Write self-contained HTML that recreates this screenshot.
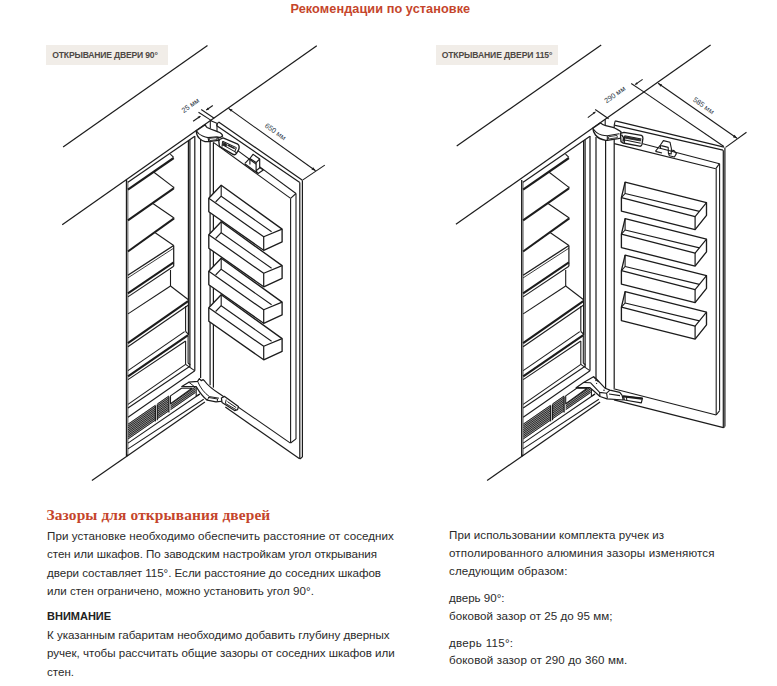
<!DOCTYPE html>
<html><head><meta charset="utf-8"><title>Рекомендации по установке</title>
<style>
html,body{margin:0;padding:0;background:#fff;}
body{width:777px;height:686px;position:relative;overflow:hidden;font-family:"Liberation Sans",sans-serif;color:#222;}
.t{position:absolute;white-space:nowrap;line-height:1;}
.title{left:290.5px;top:2.5px;font-size:12.7px;font-weight:bold;color:#c5452b;letter-spacing:0.08px;}
.lab{position:absolute;top:45px;height:19.6px;background:#f1ede8;}
.lab span{position:absolute;left:6.6px;top:5.9px;font-size:8.6px;font-weight:bold;color:#4d4845;line-height:1;white-space:nowrap;letter-spacing:-0.19px;}
.h{left:46.5px;top:507px;font-family:"Liberation Serif",serif;font-size:15.4px;font-weight:bold;color:#c5452b;letter-spacing:0.13px;}
.p{font-size:11.6px;color:#2a2a2a;}
.b{font-size:11px;font-weight:bold;color:#222;}
</style></head><body>
<div class="t title">Рекомендации по установке</div>
<div class="lab" style="left:46.3px;width:121.6px"><span style="left:6px">ОТКРЫВАНИЕ ДВЕРИ 90°</span></div>
<div class="lab" style="left:436.3px;width:121.6px"><span style="left:5.4px;letter-spacing:-0.135px">ОТКРЫВАНИЕ ДВЕРИ 115°</span></div>
<svg width="777" height="686" viewBox="0 0 777 686" style="position:absolute;left:0;top:0" fill="none" stroke="#1c1c1c" stroke-width="1.22" stroke-linecap="butt" stroke-linejoin="round">
<g id="left">
<line x1="63.1" y1="147.0" x2="207.5" y2="45.5" stroke-width="1.22"/>
<line x1="62.2" y1="224.8" x2="316.8" y2="45.8" stroke-width="1.22"/>
<line x1="126.5" y1="179.9" x2="126.5" y2="456.2" stroke-width="1.34"/>
<line x1="127.9" y1="181.3" x2="127.9" y2="454.8" stroke-width="0.67"/>
<line x1="127.9" y1="182.2" x2="194.8" y2="136.3"/>
<line x1="188.4" y1="140.8" x2="188.4" y2="335.0"/>
<line x1="189.9" y1="139.8" x2="189.9" y2="366.5"/>
<line x1="194.8" y1="136.0" x2="194.8" y2="370.8"/>
<line x1="170.3" y1="154.2" x2="173.7" y2="157.4" stroke-width="1.10"/>
<line x1="127.9" y1="189.7" x2="173.7" y2="158.0" stroke-width="2.20"/>
<line x1="127.9" y1="220.4" x2="173.7" y2="188.4" stroke-width="2.07"/>
<line x1="173.7" y1="186.8" x2="173.7" y2="188.8"/>
<line x1="173.7" y1="187.4" x2="153.3" y2="171.8" stroke-width="1.10"/>
<line x1="127.9" y1="251.5" x2="173.7" y2="218.6" stroke-width="2.07"/>
<line x1="173.8" y1="217.4" x2="173.8" y2="219.4"/>
<line x1="173.7" y1="217.8" x2="152.9" y2="203.5" stroke-width="1.10"/>
<line x1="173.7" y1="245.5" x2="155.2" y2="232.8" stroke-width="1.10"/>
<line x1="127.9" y1="275.2" x2="173.7" y2="245.5" stroke-width="1.34"/>
<line x1="127.9" y1="277.9" x2="173.7" y2="248.2" stroke-width="0.85"/>
<line x1="173.7" y1="245.5" x2="173.7" y2="266.2"/>
<line x1="127.9" y1="293.3" x2="173.7" y2="262.4" stroke-width="2.07"/>
<line x1="127.9" y1="296.9" x2="173.7" y2="266.2" stroke-width="1.10"/>
<line x1="170.5" y1="270.0" x2="170.5" y2="286.0" stroke-width="1.10"/>
<line x1="128.0" y1="313.9" x2="170.5" y2="286.0" stroke-width="1.10"/>
<line x1="170.5" y1="286.0" x2="188.1" y2="299.5" stroke-width="1.10"/>
<line x1="127.9" y1="343.1" x2="188.1" y2="301.2" stroke-width="2.20"/>
<line x1="127.9" y1="346.8" x2="188.1" y2="305.2" stroke-width="1.10"/>
<line x1="185.6" y1="306.0" x2="185.6" y2="331.5" stroke-width="1.10"/>
<line x1="185.6" y1="331.5" x2="188.1" y2="333.8" stroke-width="1.10"/>
<line x1="128.0" y1="370.6" x2="184.6" y2="331.6" stroke-width="1.10"/>
<line x1="128.0" y1="376.3" x2="188.1" y2="335.2" stroke-width="2.20"/>
<line x1="128.0" y1="379.6" x2="185.6" y2="341.0" stroke-width="1.10"/>
<line x1="185.6" y1="341.0" x2="185.6" y2="364.4" stroke-width="1.10"/>
<line x1="188.1" y1="335.2" x2="188.1" y2="363.2" stroke-width="1.10"/>
<line x1="185.6" y1="364.4" x2="194.6" y2="370.6" stroke-width="1.10"/>
<line x1="188.1" y1="363.2" x2="190.3" y2="364.8" stroke-width="1.10"/>
<line x1="128.0" y1="404.4" x2="185.6" y2="364.4" stroke-width="1.10"/>
<line x1="128.0" y1="408.0" x2="190.3" y2="366.0" stroke-width="1.10"/>
<line x1="128.0" y1="417.3" x2="194.8" y2="370.8" stroke-width="1.10"/>
<path d="M128.0 423.7 L155.4 404.8 L155.4 420.6 L128.0 439.5 Z" fill="#9a9a9a" stroke="none"/>
<line x1="128.0" y1="424.2" x2="155.4" y2="405.3" stroke-width="0.85" stroke="#111"/>
<line x1="128.0" y1="426.1" x2="155.4" y2="407.1" stroke-width="0.85" stroke="#111"/>
<line x1="128.0" y1="427.9" x2="155.4" y2="409.0" stroke-width="0.85" stroke="#111"/>
<line x1="128.0" y1="429.8" x2="155.4" y2="410.8" stroke-width="0.85" stroke="#111"/>
<line x1="128.0" y1="431.6" x2="155.4" y2="412.7" stroke-width="0.85" stroke="#111"/>
<line x1="128.0" y1="433.4" x2="155.4" y2="414.5" stroke-width="0.85" stroke="#111"/>
<line x1="128.0" y1="435.3" x2="155.4" y2="416.4" stroke-width="0.85" stroke="#111"/>
<line x1="128.0" y1="437.1" x2="155.4" y2="418.2" stroke-width="0.85" stroke="#111"/>
<line x1="128.0" y1="439.0" x2="155.4" y2="420.1" stroke-width="0.85" stroke="#111"/>
<path d="M157.3 403.5 L168.9 395.5 L168.9 411.3 L157.3 419.3 Z" fill="#9a9a9a" stroke="none"/>
<line x1="157.3" y1="404.0" x2="168.9" y2="396.0" stroke-width="0.85" stroke="#111"/>
<line x1="157.3" y1="405.8" x2="168.9" y2="397.8" stroke-width="0.85" stroke="#111"/>
<line x1="157.3" y1="407.7" x2="168.9" y2="399.7" stroke-width="0.85" stroke="#111"/>
<line x1="157.3" y1="409.5" x2="168.9" y2="401.5" stroke-width="0.85" stroke="#111"/>
<line x1="157.3" y1="411.4" x2="168.9" y2="403.4" stroke-width="0.85" stroke="#111"/>
<line x1="157.3" y1="413.2" x2="168.9" y2="405.2" stroke-width="0.85" stroke="#111"/>
<line x1="157.3" y1="415.1" x2="168.9" y2="407.1" stroke-width="0.85" stroke="#111"/>
<line x1="157.3" y1="416.9" x2="168.9" y2="408.9" stroke-width="0.85" stroke="#111"/>
<line x1="157.3" y1="418.8" x2="168.9" y2="410.8" stroke-width="0.85" stroke="#111"/>
<line x1="155.4" y1="405.6" x2="155.4" y2="421.4"/>
<line x1="157.3" y1="404.4" x2="157.3" y2="420.2"/>
<path d="M170.5 403.6 L195.5 386.4 L195.5 392.9 L170.5 410.2 Z" fill="#9a9a9a" stroke="none"/>
<line x1="170.5" y1="404.1" x2="195.5" y2="386.9" stroke-width="0.85" stroke="#111"/>
<line x1="170.5" y1="406.0" x2="195.5" y2="388.7" stroke-width="0.85" stroke="#111"/>
<line x1="170.5" y1="407.8" x2="195.5" y2="390.6" stroke-width="0.85" stroke="#111"/>
<line x1="170.5" y1="409.7" x2="195.5" y2="392.4" stroke-width="0.85" stroke="#111"/>
<path d="M170.5 395.9 L181.5 388.3 L192.0 388.3 L170.5 403.6 Z" stroke-width="1.10" fill="#fff"/>
<line x1="168.9" y1="396.6" x2="168.9" y2="412.5"/>
<line x1="128.0" y1="443.1" x2="199.8" y2="394.0" stroke-width="1.10"/>
<line x1="128.0" y1="448.9" x2="203.7" y2="399.3" stroke-width="1.10"/>
<line x1="91.9" y1="480.5" x2="204.9" y2="401.9"/>
<line x1="126.4" y1="456.2" x2="128.0" y2="454.8"/>
<line x1="196.2" y1="387.5" x2="196.2" y2="396.2" stroke-width="1.10"/>
<line x1="196.2" y1="396.2" x2="199.8" y2="394.0" stroke-width="1.10"/>
<line x1="200.6" y1="137.0" x2="200.6" y2="378.0"/>
<line x1="210.1" y1="141.5" x2="210.1" y2="385.2"/>
<line x1="213.4" y1="142.4" x2="213.4" y2="387.6"/>
<line x1="218.6" y1="122.0" x2="302.4" y2="180.2"/>
<line x1="216.4" y1="125.4" x2="299.8" y2="182.6"/>
<line x1="218.6" y1="122.0" x2="216.4" y2="125.4" stroke-width="1.10"/>
<line x1="210.3" y1="120.6" x2="210.3" y2="128.6" stroke-width="1.10"/>
<line x1="217.0" y1="123.4" x2="217.0" y2="131.4" stroke-width="1.10"/>
<line x1="210.3" y1="120.6" x2="217.4" y2="123.6" stroke-width="1.10"/>
<line x1="236.4" y1="149.6" x2="296.0" y2="193.5" stroke-width="1.10"/>
<line x1="213.4" y1="142.4" x2="290.6" y2="198.4" stroke-width="1.10"/>
<line x1="296.0" y1="193.5" x2="290.6" y2="198.4" stroke-width="1.10"/>
<line x1="290.6" y1="198.4" x2="290.6" y2="443.0" stroke-width="1.10"/>
<line x1="296.0" y1="193.5" x2="296.0" y2="438.9" stroke-width="1.10"/>
<line x1="299.8" y1="182.6" x2="299.8" y2="459.0"/>
<line x1="302.4" y1="180.2" x2="302.4" y2="457.0"/>
<line x1="299.8" y1="459.0" x2="302.4" y2="457.0" stroke-width="1.10"/>
<line x1="224.0" y1="397.2" x2="290.4" y2="443.1" stroke-width="1.10"/>
<line x1="290.6" y1="443.0" x2="296.0" y2="438.9" stroke-width="1.10"/>
<line x1="225.3" y1="407.0" x2="299.6" y2="458.8"/>
<path d="M208.8 198.2 L221.2 185.3 L282.1 229.1 L282.1 241.9 L263.7 250.3 L208.8 211.7 Z" stroke-width="1.34" fill="#fff"/>
<path d="M208.8 198.2 L263.7 236.8 L282.1 229.1" stroke-width="1.22"/>
<path d="M263.7 236.8 L263.7 250.3" stroke-width="1.22"/>
<path d="M221.2 185.3 L221.2 196.2 L271.6 231.8" stroke-width="1.10"/>
<path d="M221.2 196.2 L215.6 202.0" stroke-width="1.10"/>
<path d="M208.8 234.7 L221.2 221.8 L282.1 265.6 L282.1 278.4 L263.7 286.8 L208.8 248.2 Z" stroke-width="1.34" fill="#fff"/>
<path d="M208.8 234.7 L263.7 273.3 L282.1 265.6" stroke-width="1.22"/>
<path d="M263.7 273.3 L263.7 286.8" stroke-width="1.22"/>
<path d="M221.2 221.8 L221.2 232.7 L271.6 268.3" stroke-width="1.10"/>
<path d="M221.2 232.7 L215.6 238.5" stroke-width="1.10"/>
<path d="M208.8 271.2 L221.2 258.3 L282.1 302.1 L282.1 314.9 L263.7 323.3 L208.8 284.7 Z" stroke-width="1.34" fill="#fff"/>
<path d="M208.8 271.2 L263.7 309.8 L282.1 302.1" stroke-width="1.22"/>
<path d="M263.7 309.8 L263.7 323.3" stroke-width="1.22"/>
<path d="M221.2 258.3 L221.2 269.2 L271.6 304.8" stroke-width="1.10"/>
<path d="M221.2 269.2 L215.6 275.0" stroke-width="1.10"/>
<path d="M208.8 307.7 L221.2 294.8 L282.1 338.6 L282.1 351.4 L263.7 359.8 L208.8 321.2 Z" stroke-width="1.34" fill="#fff"/>
<path d="M208.8 307.7 L263.7 346.3 L282.1 338.6" stroke-width="1.22"/>
<path d="M263.7 346.3 L263.7 359.8" stroke-width="1.22"/>
<path d="M221.2 294.8 L221.2 305.7 L271.6 341.3" stroke-width="1.10"/>
<path d="M221.2 305.7 L215.6 311.5" stroke-width="1.10"/>
<path d="M196.3 130.7 C196.3 133.5 197.6 136.6 199.4 138.4 C201 140 203 141.2 205 141.6 L208.9 141.7 L218.4 140.3 L217.9 137.9 L220.2 137.5 L222.5 136.1 C222.6 134.6 221 133.2 219.7 132.5 C216 131 211 129.6 207.1 127.5 C206.2 126.8 205.6 126.2 205.3 124.6 Z" fill="#fff" stroke-width="1.34"/>
<path d="M196.3 130.7 C198 133.4 200 135 202.6 136.1 C204.4 136.9 206 137.4 208 137.6 L217 136.7 L217.9 137.9 M208 137.6 L208.9 141.7 M217 136.7 L220.2 137.5" stroke-width="1.10"/>
<path d="M209.2 138.4 L216.6 137.6 L217 139.6 L209.6 140.6 Z" stroke-width="0.85"/>
<path d="M218.8 141.2 L219.7 139.5 L223 137.9 L237.8 144.2 C239.2 145.2 239.4 147.4 238.7 149.6 L236.6 153.2 C235.6 154.8 234 155 232.6 154.2 L219.4 146.4 Z" fill="#fff" stroke-width="1.34"/>
<path d="M222.6 141.2 L236.4 147.6 M222 144.4 L234.8 151.6 L236.6 153.2 M236.4 147.6 L234.8 151.6 M222.6 141.2 L222 146.6" stroke-width="1.04"/>
<path d="M223.4 142.6 L226.6 144 L226.2 146.6 L223.2 145 Z" fill="#222" stroke-width="0.73"/>
<path d="M227.6 145 L234.8 148.6" stroke-width="1.59"/>
<path d="M249.9 158.5 L253 154.3 L259.7 159 L259.7 167.8 L256.1 170.9 L256.1 162.6 Z" fill="#fff" stroke-width="1.16"/>
<path d="M244.7 163.7 L249.7 158.3 M256.1 162.6 L259.7 159 M249.9 158.5 L249.9 164.6 M244.7 163.7 L258.1 173.5 L263.3 169.9 L259.7 167.4 M256.1 170.9 L258.1 173.5" stroke-width="1.16"/>
<path d="M181.8 386.6 L188.8 382.2 L197.6 381.4 L199.4 378.6 L201.2 380.6 L203.2 379.6 L204.6 381 C208 386 213.6 390 220.6 394.6 L226 398.2 L224.4 401 L216 401.8 L207.2 400.2 C202.4 396.6 199.4 392 196.2 386.6 Z" fill="#fff" stroke-width="1.22"/>
<path d="M188.8 382.2 L194.4 386.6 M197.6 381.4 C200.4 388 204.4 393 209.4 396.6 L207.2 400.2 M209.4 396.6 L219 398.2 M208 397.4 L217.6 399 L217.2 401.6" stroke-width="0.98"/>
<path d="M221.4 398 L224.6 396.4 L238.4 406.6 L237.6 409.6 L234.6 410.6 L222 402.4 Z" fill="#fff" stroke-width="1.22"/>
<path d="M226.2 399.6 L225.4 403.4 L236 409.6 M227.4 401.6 L236.2 407.6" stroke-width="0.98"/>
<line x1="198.5" y1="112.2" x2="211.5" y2="120.6" stroke-width="1.10"/>
<line x1="201.2" y1="109.5" x2="214.2" y2="118.2" stroke-width="1.10"/>
<line x1="193.1" y1="121.2" x2="200.3" y2="116.2" stroke-width="1.10"/>
<line x1="206.4" y1="110.0" x2="212.8" y2="105.5" stroke-width="1.10"/>
<line x1="228.5" y1="108.4" x2="315.6" y2="170.7" stroke-width="1.10"/>
<line x1="302.9" y1="179.9" x2="324.8" y2="165.1" stroke-width="1.10"/>
<path d="M228.5 108.4 L232.6 109.4 L231 111.8 Z M315.6 170.7 L311.4 169.6 L313.2 167.2 Z" fill="#1c1c1c" stroke="none"/>
<path d="M200.9 115.9 L198.9 118.6 L197.6 116.8 Z M205.9 110.3 L209.2 109.4 L207.9 107.6 Z" fill="#1c1c1c" stroke="none"/>
</g>
<g id="right">
<line x1="456.7" y1="146.1" x2="601.2" y2="45.1" stroke-width="1.22"/>
<line x1="455.9" y1="224.3" x2="710.6" y2="45.1" stroke-width="1.22"/>
<line x1="521.7" y1="179.9" x2="521.7" y2="456.2" stroke-width="1.34"/>
<line x1="523.1" y1="181.3" x2="523.1" y2="454.8" stroke-width="0.67"/>
<line x1="523.1" y1="182.2" x2="590.0" y2="136.3"/>
<line x1="583.6" y1="140.8" x2="583.6" y2="335.0"/>
<line x1="585.1" y1="139.8" x2="585.1" y2="366.5"/>
<line x1="590.0" y1="136.0" x2="590.0" y2="370.8"/>
<line x1="565.5" y1="154.2" x2="568.9" y2="157.4" stroke-width="1.10"/>
<line x1="523.1" y1="189.7" x2="568.9" y2="158.0" stroke-width="2.20"/>
<line x1="523.1" y1="220.4" x2="568.9" y2="188.4" stroke-width="2.07"/>
<line x1="568.9" y1="186.8" x2="568.9" y2="188.8"/>
<line x1="568.9" y1="187.4" x2="548.5" y2="171.8" stroke-width="1.10"/>
<line x1="523.1" y1="251.5" x2="568.9" y2="218.6" stroke-width="2.07"/>
<line x1="569.0" y1="217.4" x2="569.0" y2="219.4"/>
<line x1="568.9" y1="217.8" x2="548.1" y2="203.5" stroke-width="1.10"/>
<line x1="568.9" y1="245.5" x2="550.4" y2="232.8" stroke-width="1.10"/>
<line x1="523.1" y1="275.2" x2="568.9" y2="245.5" stroke-width="1.34"/>
<line x1="523.1" y1="277.9" x2="568.9" y2="248.2" stroke-width="0.85"/>
<line x1="568.9" y1="245.5" x2="568.9" y2="266.2"/>
<line x1="523.1" y1="293.3" x2="568.9" y2="262.4" stroke-width="2.07"/>
<line x1="523.1" y1="296.9" x2="568.9" y2="266.2" stroke-width="1.10"/>
<line x1="565.7" y1="270.0" x2="565.7" y2="286.0" stroke-width="1.10"/>
<line x1="523.2" y1="313.9" x2="565.7" y2="286.0" stroke-width="1.10"/>
<line x1="565.7" y1="286.0" x2="583.3" y2="299.5" stroke-width="1.10"/>
<line x1="523.1" y1="343.1" x2="583.3" y2="301.2" stroke-width="2.20"/>
<line x1="523.1" y1="346.8" x2="583.3" y2="305.2" stroke-width="1.10"/>
<line x1="580.8" y1="306.0" x2="580.8" y2="331.5" stroke-width="1.10"/>
<line x1="580.8" y1="331.5" x2="583.3" y2="333.8" stroke-width="1.10"/>
<line x1="523.2" y1="370.6" x2="579.8" y2="331.6" stroke-width="1.10"/>
<line x1="523.2" y1="376.3" x2="583.3" y2="335.2" stroke-width="2.20"/>
<line x1="523.2" y1="379.6" x2="580.8" y2="341.0" stroke-width="1.10"/>
<line x1="580.8" y1="341.0" x2="580.8" y2="364.4" stroke-width="1.10"/>
<line x1="583.3" y1="335.2" x2="583.3" y2="363.2" stroke-width="1.10"/>
<line x1="580.8" y1="364.4" x2="589.8" y2="370.6" stroke-width="1.10"/>
<line x1="583.3" y1="363.2" x2="585.5" y2="364.8" stroke-width="1.10"/>
<line x1="523.2" y1="404.4" x2="580.8" y2="364.4" stroke-width="1.10"/>
<line x1="523.2" y1="408.0" x2="585.5" y2="366.0" stroke-width="1.10"/>
<line x1="523.2" y1="417.3" x2="590.0" y2="370.8" stroke-width="1.10"/>
<path d="M523.2 423.7 L550.6 404.8 L550.6 420.6 L523.2 439.5 Z" fill="#9a9a9a" stroke="none"/>
<line x1="523.2" y1="424.2" x2="550.6" y2="405.3" stroke-width="0.85" stroke="#111"/>
<line x1="523.2" y1="426.1" x2="550.6" y2="407.1" stroke-width="0.85" stroke="#111"/>
<line x1="523.2" y1="427.9" x2="550.6" y2="409.0" stroke-width="0.85" stroke="#111"/>
<line x1="523.2" y1="429.8" x2="550.6" y2="410.8" stroke-width="0.85" stroke="#111"/>
<line x1="523.2" y1="431.6" x2="550.6" y2="412.7" stroke-width="0.85" stroke="#111"/>
<line x1="523.2" y1="433.4" x2="550.6" y2="414.5" stroke-width="0.85" stroke="#111"/>
<line x1="523.2" y1="435.3" x2="550.6" y2="416.4" stroke-width="0.85" stroke="#111"/>
<line x1="523.2" y1="437.1" x2="550.6" y2="418.2" stroke-width="0.85" stroke="#111"/>
<line x1="523.2" y1="439.0" x2="550.6" y2="420.1" stroke-width="0.85" stroke="#111"/>
<path d="M552.5 403.5 L564.1 395.5 L564.1 411.3 L552.5 419.3 Z" fill="#9a9a9a" stroke="none"/>
<line x1="552.5" y1="404.0" x2="564.1" y2="396.0" stroke-width="0.85" stroke="#111"/>
<line x1="552.5" y1="405.8" x2="564.1" y2="397.8" stroke-width="0.85" stroke="#111"/>
<line x1="552.5" y1="407.7" x2="564.1" y2="399.7" stroke-width="0.85" stroke="#111"/>
<line x1="552.5" y1="409.5" x2="564.1" y2="401.5" stroke-width="0.85" stroke="#111"/>
<line x1="552.5" y1="411.4" x2="564.1" y2="403.4" stroke-width="0.85" stroke="#111"/>
<line x1="552.5" y1="413.2" x2="564.1" y2="405.2" stroke-width="0.85" stroke="#111"/>
<line x1="552.5" y1="415.1" x2="564.1" y2="407.1" stroke-width="0.85" stroke="#111"/>
<line x1="552.5" y1="416.9" x2="564.1" y2="408.9" stroke-width="0.85" stroke="#111"/>
<line x1="552.5" y1="418.8" x2="564.1" y2="410.8" stroke-width="0.85" stroke="#111"/>
<line x1="550.6" y1="405.6" x2="550.6" y2="421.4"/>
<line x1="552.5" y1="404.4" x2="552.5" y2="420.2"/>
<path d="M565.7 403.6 L590.7 386.4 L590.7 392.9 L565.7 410.2 Z" fill="#9a9a9a" stroke="none"/>
<line x1="565.7" y1="404.1" x2="590.7" y2="386.9" stroke-width="0.85" stroke="#111"/>
<line x1="565.7" y1="406.0" x2="590.7" y2="388.7" stroke-width="0.85" stroke="#111"/>
<line x1="565.7" y1="407.8" x2="590.7" y2="390.6" stroke-width="0.85" stroke="#111"/>
<line x1="565.7" y1="409.7" x2="590.7" y2="392.4" stroke-width="0.85" stroke="#111"/>
<path d="M565.7 395.9 L576.7 388.3 L587.2 388.3 L565.7 403.6 Z" stroke-width="1.10" fill="#fff"/>
<line x1="564.1" y1="396.6" x2="564.1" y2="412.5"/>
<line x1="523.2" y1="443.1" x2="595.0" y2="394.0" stroke-width="1.10"/>
<line x1="523.2" y1="448.9" x2="598.9" y2="399.3" stroke-width="1.10"/>
<line x1="487.1" y1="480.5" x2="600.1" y2="401.9"/>
<line x1="521.6" y1="456.2" x2="523.2" y2="454.8"/>
<line x1="591.4" y1="387.5" x2="591.4" y2="396.2" stroke-width="1.10"/>
<line x1="591.4" y1="396.2" x2="595.0" y2="394.0" stroke-width="1.10"/>
<line x1="596.0" y1="137.0" x2="596.0" y2="378.4"/>
<line x1="605.6" y1="140.3" x2="605.6" y2="391.0"/>
<line x1="605.2" y1="119.0" x2="605.2" y2="125.6" stroke-width="1.10"/>
<line x1="614.2" y1="125.2" x2="614.2" y2="388.6"/>
<line x1="615.2" y1="120.9" x2="724.0" y2="147.2"/>
<line x1="614.2" y1="125.2" x2="723.0" y2="150.2"/>
<line x1="615.2" y1="120.9" x2="614.2" y2="125.2" stroke-width="1.10"/>
<line x1="642.8" y1="143.8" x2="719.5" y2="163.7" stroke-width="1.10"/>
<line x1="614.2" y1="143.6" x2="715.8" y2="168.7" stroke-width="1.10"/>
<line x1="719.5" y1="163.7" x2="715.8" y2="168.7" stroke-width="1.10"/>
<line x1="716.2" y1="168.7" x2="716.2" y2="415.0" stroke-width="1.10"/>
<line x1="719.6" y1="163.7" x2="719.6" y2="410.6" stroke-width="1.10"/>
<line x1="723.3" y1="150.2" x2="723.3" y2="427.7"/>
<line x1="724.9" y1="147.4" x2="724.9" y2="426.4"/>
<line x1="723.3" y1="427.7" x2="724.9" y2="426.6" stroke-width="1.10"/>
<line x1="613.6" y1="388.8" x2="716.2" y2="415.0" stroke-width="1.10"/>
<line x1="716.2" y1="415.0" x2="719.6" y2="410.6" stroke-width="1.10"/>
<line x1="614.0" y1="399.8" x2="723.4" y2="427.7"/>
<path d="M621.4 197.7 L625.1 182.1 L706.5 202.7 L706.5 215.3 L695.1 229.6 L621.4 211.1 Z" stroke-width="1.34" fill="#fff"/>
<path d="M621.4 197.7 L695.1 216.6 L706.5 202.7" stroke-width="1.22"/>
<path d="M695.1 216.6 L695.1 229.6" stroke-width="1.22"/>
<path d="M625.1 182.1 L625.1 193.5 L699.4 211.4" stroke-width="1.10"/>
<path d="M625.1 193.5 L621.4 197.7" stroke-width="1.10"/>
<path d="M621.4 234.2 L625.1 218.6 L706.5 239.2 L706.5 251.8 L695.1 266.1 L621.4 247.6 Z" stroke-width="1.34" fill="#fff"/>
<path d="M621.4 234.2 L695.1 253.1 L706.5 239.2" stroke-width="1.22"/>
<path d="M695.1 253.1 L695.1 266.1" stroke-width="1.22"/>
<path d="M625.1 218.6 L625.1 230.0 L699.4 247.9" stroke-width="1.10"/>
<path d="M625.1 230.0 L621.4 234.2" stroke-width="1.10"/>
<path d="M621.4 270.7 L625.1 255.1 L706.5 275.7 L706.5 288.3 L695.1 302.6 L621.4 284.1 Z" stroke-width="1.34" fill="#fff"/>
<path d="M621.4 270.7 L695.1 289.6 L706.5 275.7" stroke-width="1.22"/>
<path d="M695.1 289.6 L695.1 302.6" stroke-width="1.22"/>
<path d="M625.1 255.1 L625.1 266.5 L699.4 284.4" stroke-width="1.10"/>
<path d="M625.1 266.5 L621.4 270.7" stroke-width="1.10"/>
<path d="M621.4 307.2 L625.1 291.6 L706.5 312.2 L706.5 324.8 L695.1 339.1 L621.4 320.6 Z" stroke-width="1.34" fill="#fff"/>
<path d="M621.4 307.2 L695.1 326.1 L706.5 312.2" stroke-width="1.22"/>
<path d="M695.1 326.1 L695.1 339.1" stroke-width="1.22"/>
<path d="M625.1 291.6 L625.1 303.0 L699.4 320.9" stroke-width="1.10"/>
<path d="M625.1 303.0 L621.4 307.2" stroke-width="1.10"/>
<path d="M592.8 128.3 C593 131 594 133 595.5 135 C597.5 137.6 601 139.6 605.7 140.3 L607.3 140.3 L618.1 138.6 L620.7 138.1 L620.7 133.5 L621.2 132.1 C620.4 131 619.4 130.4 618.1 129.8 C616 128.6 614.6 127.8 613 127.3 L605.7 125.7 C603.6 125.2 602 124.6 600.5 122.9 Z" fill="#fff" stroke-width="1.34"/>
<path d="M592.8 128.3 C594.4 130.6 595.6 131.8 596.4 132.4 C598 133.8 599.8 134.5 601.6 135 C603.6 135.6 605.4 135.8 607.3 135.8 L619.2 133.8 M607.3 135.8 L607.3 140.3" stroke-width="1.10"/>
<path d="M608.4 136.8 L617 135.4 L617.4 137.6 L608.5 139 Z" stroke-width="0.85"/>
<path d="M620.4 133.4 L624 132.4 L641.4 135.4 C642.8 136 643 137 642.9 138.4 L642 144.4 C641.6 146 640.6 146.4 639.6 146.2 L623 143 L621 141.6 Z" fill="#fff" stroke-width="1.34"/>
<path d="M624.6 135.8 L641.4 139 M625 139.9 L640.8 143.2 M624.6 135.8 L624.4 143" stroke-width="1.04"/>
<path d="M625.2 136.6 L640.8 139.6 L640.6 141 L625.2 138.2 Z" fill="#333" stroke-width="0.73"/>
<path d="M621.4 134.6 L623.6 137.6 L623 141.6" stroke-width="1.46"/>
<path d="M655.4 151.4 L660.4 145 L660.6 149 M660.4 145 L663.4 140.6 L670 142.2 L671.4 148.6 L671.2 154 L668.4 153.4 L668.2 147.4 L661.2 145.6 M671.4 150 L674 150.6 L676.4 153.6 L674.4 157 L669.4 155.8 L668.4 153.4 M655.4 151.4 L662 153" stroke-width="1.10"/>
<path d="M576.1 387.7 L583.6 382.5 L593.5 376.7 L595.9 378.4 L605.2 388.3 L609.9 390.1 L619.8 392.4 L622.1 395.3 L623.3 400 L607 398.8 L600 396.5 L594.1 391.2 L590 387.7 Z" fill="#fff" stroke-width="1.22"/>
<path d="M583.6 382.5 L590.4 382.7 M590.4 382.7 L599.6 392.4 L606.6 393.2 L607.4 398.6 M599.6 392.4 L600 396.5 M606.6 393.2 L610 390.2 M609 394 L620 395.6 M593.5 376.7 L598.6 382" stroke-width="1.10"/>
<circle cx="596" cy="380.4" r="0.8" fill="#222" stroke="none"/><circle cx="604" cy="390.2" r="0.8" fill="#222" stroke="none"/><circle cx="596.6" cy="383.4" r="0.6" fill="#222" stroke="none"/>
<path d="M623.3 395.9 L642.5 398.2 L641.3 402.9 L624.4 400 Z" fill="#fff" stroke-width="1.22"/>
<path d="M624 396.6 L642 398.8" stroke-width="1.95"/>
<path d="M626.4 396.4 L626.8 400.4" stroke-width="1.10"/>
<line x1="595.2" y1="109.5" x2="608.6" y2="118.7" stroke-width="1.10"/>
<line x1="631.2" y1="83.5" x2="643.8" y2="91.9" stroke-width="1.10"/>
<line x1="587.8" y1="117.6" x2="595.2" y2="112.1" stroke-width="1.10"/>
<line x1="635.4" y1="84.4" x2="642.6" y2="79.4" stroke-width="1.10"/>
<line x1="643.8" y1="91.9" x2="723.9" y2="146.5" stroke-width="1.10"/>
<line x1="658.1" y1="83.3" x2="737.0" y2="138.2" stroke-width="1.10"/>
<line x1="725.6" y1="147.4" x2="746.5" y2="132.3" stroke-width="1.10"/>
<path d="M658.1 83.3 L662.2 84.4 L660.6 86.8 Z M737 138.2 L732.8 137.2 L734.6 134.8 Z" fill="#1c1c1c" stroke="none"/>
<path d="M596.0 111.5 L593.9 114.3 L592.7 112.5 Z M634.6 84.9 L637.9 84.1 L636.7 82.3 Z" fill="#1c1c1c" stroke="none"/>
</g>
<text x="191.8" y="107.4" transform="rotate(-35.5 191.8 107.4)" text-anchor="middle" font-family="Liberation Sans, sans-serif" font-size="7.2" fill="#2a3544" stroke="none">25 мм</text>
<text x="274.0" y="133.6" transform="rotate(35.5 274.0 133.6)" text-anchor="middle" font-family="Liberation Sans, sans-serif" font-size="7.2" fill="#2a3544" stroke="none">650 мм</text>
<text x="616.2" y="96.6" transform="rotate(-35.5 616.2 96.6)" text-anchor="middle" font-family="Liberation Sans, sans-serif" font-size="7.2" fill="#2a3544" stroke="none">290 мм</text>
<text x="702.2" y="107.6" transform="rotate(35.5 702.2 107.6)" text-anchor="middle" font-family="Liberation Sans, sans-serif" font-size="7.2" fill="#2a3544" stroke="none">585 мм</text>
</svg>
<div class="t h">Зазоры для открывания дверей</div>
<div class="t p" style="left:47px;top:530px;letter-spacing:0.053px">При установке необходимо обеспечить расстояние от соседних</div>
<div class="t p" style="left:47px;top:548.3px;letter-spacing:-0.038px">стен или шкафов. По заводским настройкам угол открывания</div>
<div class="t p" style="left:47px;top:566.6px;letter-spacing:-0.032px">двери составляет 115°. Если расстояние до соседних шкафов</div>
<div class="t p" style="left:47px;top:584.9px;letter-spacing:0.015px">или стен ограничено, можно установить угол 90°.</div>
<div class="t b" style="left:47px;top:611px">ВНИМАНИЕ</div>
<div class="t p" style="left:47px;top:629px;letter-spacing:-0.016px">К указанным габаритам необходимо добавить глубину дверных</div>
<div class="t p" style="left:47px;top:647.3px;letter-spacing:-0.017px">ручек, чтобы рассчитать общие зазоры от соседних шкафов или</div>
<div class="t p" style="left:47px;top:665.6px">стен.</div>
<div class="t p" style="left:449px;top:529.2px;letter-spacing:0.07px">При использовании комплекта ручек из</div>
<div class="t p" style="left:449px;top:547.3px;letter-spacing:0.135px">отполированного алюминия зазоры изменяются</div>
<div class="t p" style="left:449px;top:564.8px;letter-spacing:0.15px">следующим образом:</div>
<div class="t p" style="left:449px;top:592px;letter-spacing:-0.02px">дверь 90°:</div>
<div class="t p" style="left:449px;top:609.6px;letter-spacing:0.04px">боковой зазор от 25 до 95 мм;</div>
<div class="t p" style="left:449px;top:636.5px;letter-spacing:0.28px">дверь 115°:</div>
<div class="t p" style="left:449px;top:654.4px;letter-spacing:0.1px">боковой зазор от 290 до 360 мм.</div>
</body></html>
